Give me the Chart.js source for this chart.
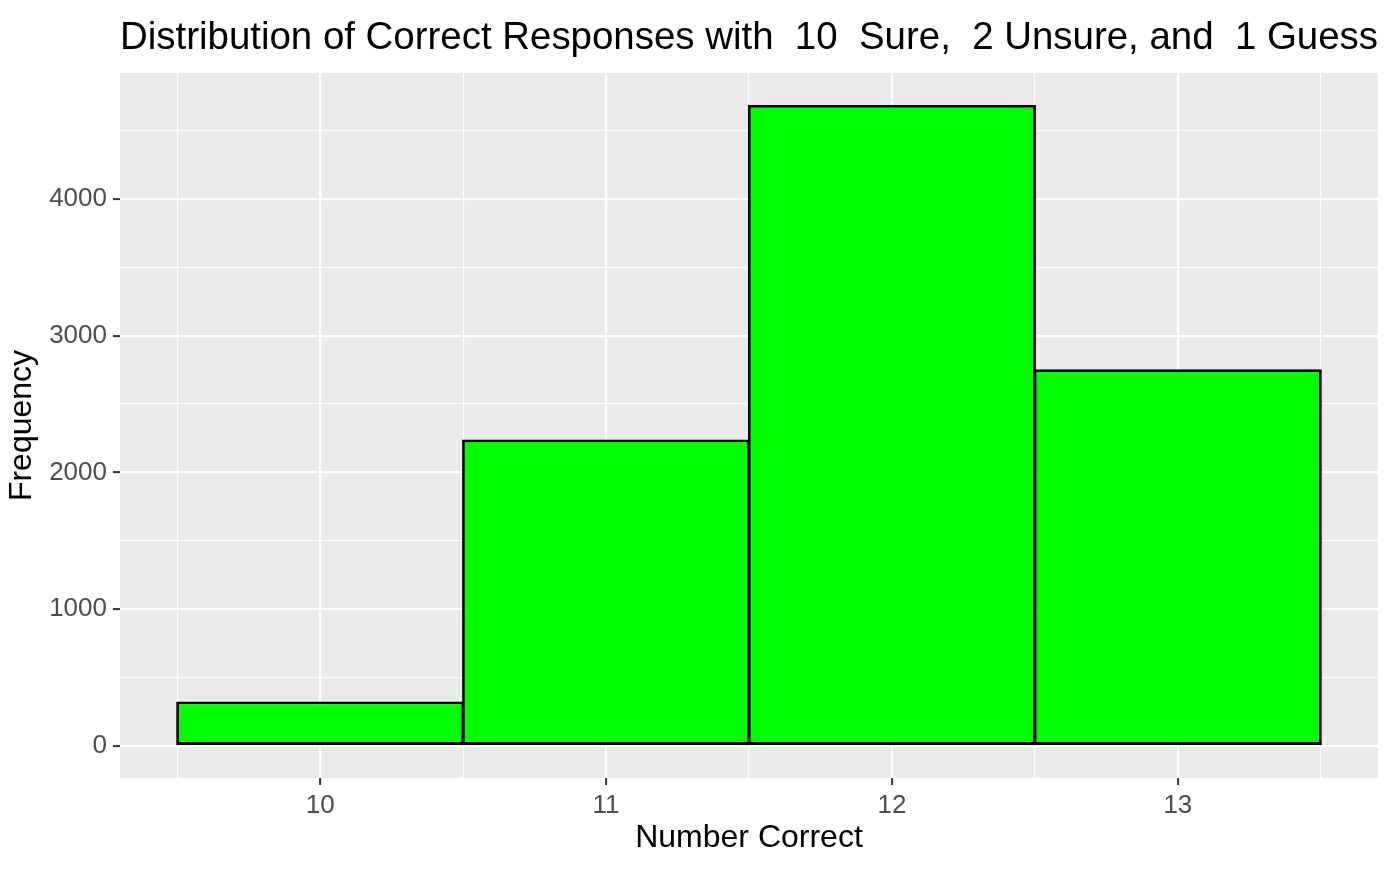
<!DOCTYPE html>
<html>
<head>
<meta charset="utf-8">
<title>Distribution of Correct Responses</title>
<script src="https://cdn.jsdelivr.net/npm/chart.js@4/dist/chart.umd.min.js"></script>
<style>
  body { margin: 0; background: #fff; }
  canvas { display: block; }
</style>
</head>
<body>
<canvas id="histChart" width="1398" height="886"></canvas>
<script>
// data
const numCorrect = [10, 11, 12, 13];
const frequency = [325, 2240, 4686, 2755];
const yTicks = [0, 500, 1000, 1500, 2000, 2500, 3000, 3500, 4000, 4500];
const xTicks = [9.5, 10, 10.5, 11, 11.5, 12, 12.5, 13, 13.5];

const ctx = document.getElementById('histChart').getContext('2d');
const fontFam = '"Liberation Sans", Arial, Helvetica, sans-serif';

// grey panel behind the bars
const panelBg = {
  id: 'panelBg',
  beforeDraw(chart) {
    const { ctx, chartArea: a } = chart;
    ctx.save();
    ctx.fillStyle = '#EBEBEB';
    ctx.fillRect(a.left, a.top, a.right - a.left, a.bottom - a.top);
    ctx.restore();
  }
};

// scriptable grid contexts don't always carry a tick
const tickVal = c => (c && c.tick) ? c.tick.value : 0;
const isMajorY = v => v % 1000 === 0;
const isMajorX = v => Number.isInteger(v);

const myChart = new Chart(ctx, {
  type: 'bar',
  data: {
    datasets: [{
      label: 'Frequency',
      data: numCorrect.map((n, i) => ({ x: n, y: frequency[i] })),
      backgroundColor: '#00FF00',
      borderColor: '#000000',
      borderWidth: 2.8,
      borderSkipped: false,
      // width is measured against the half-step ticks, so double it (+ a hair for overlapping borders)
      barPercentage: 2.014,
      categoryPercentage: 1
    }]
  },
  options: {
    responsive: false,
    animation: false,
    layout: { padding: { top: 0, right: 20, bottom: 0, left: 0 } },
    plugins: {
      legend: { display: false },
      tooltip: { enabled: false },
      title: {
        display: true,
        text: 'Distribution of Correct Responses with  10  Sure,  2 Unsure, and  1 Guess',
        align: 'start',
        fullSize: false,
        color: '#000000',
        font: { family: fontFam, size: 38.9, weight: 'normal' },
        padding: { top: 14.5, bottom: 11.8 }
      }
    },
    scales: {
      x: {
        type: 'linear',
        min: 9.3,
        max: 13.7,
        offset: false,
        afterBuildTicks: s => { s.ticks = xTicks.map(v => ({ value: v })); },
        afterFit: s => { s.height = 108; },
        border: { display: false },
        grid: {
          offset: false,
          color: '#FFFFFF',
          lineWidth: c => isMajorX(tickVal(c)) ? 2.2 : 1.1,
          tickColor: c => isMajorX(tickVal(c)) ? '#333333' : 'rgba(0,0,0,0)',
          tickWidth: 2,
          tickLength: 7
        },
        ticks: {
          autoSkip: false,
          maxRotation: 0,
          padding: 5,
          color: '#4D4D4D',
          font: { family: fontFam, size: 26 },
          callback: v => isMajorX(v) ? String(v) : ''
        },
        title: {
          display: true,
          text: 'Number Correct',
          color: '#000000',
          font: { family: fontFam, size: 32 },
          padding: { top: 0, bottom: 28.8 }
        }
      },
      y: {
        min: -234,
        max: 4920,
        afterBuildTicks: s => { s.ticks = yTicks.map(v => ({ value: v })); },
        afterFit: s => { s.width = 120; },
        border: { display: false },
        grid: {
          color: '#FFFFFF',
          lineWidth: c => isMajorY(tickVal(c)) ? 2.2 : 1.1,
          tickColor: c => isMajorY(tickVal(c)) ? '#333333' : 'rgba(0,0,0,0)',
          tickWidth: 2,
          tickLength: 7
        },
        ticks: {
          autoSkip: false,
          padding: 6,
          color: '#4D4D4D',
          font: { family: fontFam, size: 26 },
          callback: v => isMajorY(v) ? String(v) : ''
        },
        title: {
          display: true,
          text: 'Frequency',
          color: '#000000',
          font: { family: fontFam, size: 32 },
          padding: { top: 3, bottom: 0 }
        }
      }
    }
  },
  plugins: [panelBg]
});
</script>
</body>
</html>
